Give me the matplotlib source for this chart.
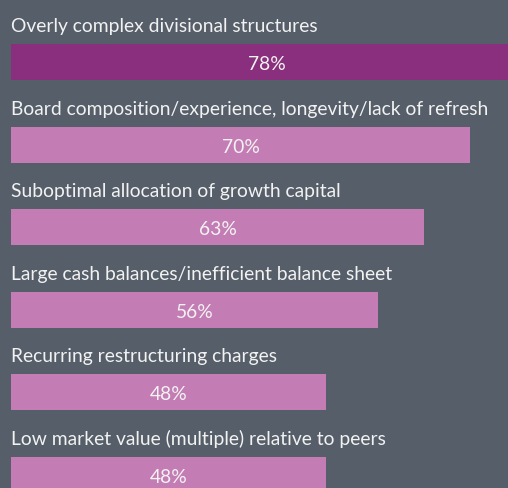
import matplotlib
matplotlib.use("Agg")
import matplotlib.pyplot as plt

categories = [
    "Overly complex divisional structures",
    "Board composition/experience, longevity/lack of refresh",
    "Suboptimal allocation of growth capital",
    "Large cash balances/inefficient balance sheet",
    "Recurring restructuring charges",
    "Low market value (multiple) relative to peers",
]
values = [78, 70, 63, 56, 48, 48]
value_labels = ["78%", "70%", "63%", "56%", "48%", "48%"]

BG = "#555e69"
DARK = "#8a2f7e"
LIGHT = "#c47db4"
TXT = "#f2f2f2"

W, H = 508, 488
fig = plt.figure(figsize=(W / 100, H / 100), dpi=100, facecolor=BG)
ax = fig.add_axes([11 / W, 0, 1 - 11 / W, 1])
ax.set_facecolor(BG)

px_per_unit = 6.56
spacing = 82.6
first_center = 62
bar_h = 36 / spacing

ax.set_xlim(0, (W - 11) / px_per_unit)
ax.set_ylim((H - first_center) / spacing, -first_center / spacing)

ys = list(range(len(values)))
colors = [DARK] + [LIGHT] * (len(values) - 1)
ax.barh(ys, values, height=bar_h, color=colors, linewidth=0)

font = "Lato"
fs = 13.9
for y, cat, v, lab in zip(ys, categories, values, value_labels):
    ax.text(0, y - bar_h / 2 - 12 / spacing, cat, ha="left", va="baseline",
            color=TXT, fontsize=fs, family=font)
    ax.text(v / 2, y + 8 / spacing, lab, ha="center", va="baseline",
            color=TXT, fontsize=fs, family=font)

ax.axis("off")
fig.savefig("out.png", dpi=100, facecolor=BG)
